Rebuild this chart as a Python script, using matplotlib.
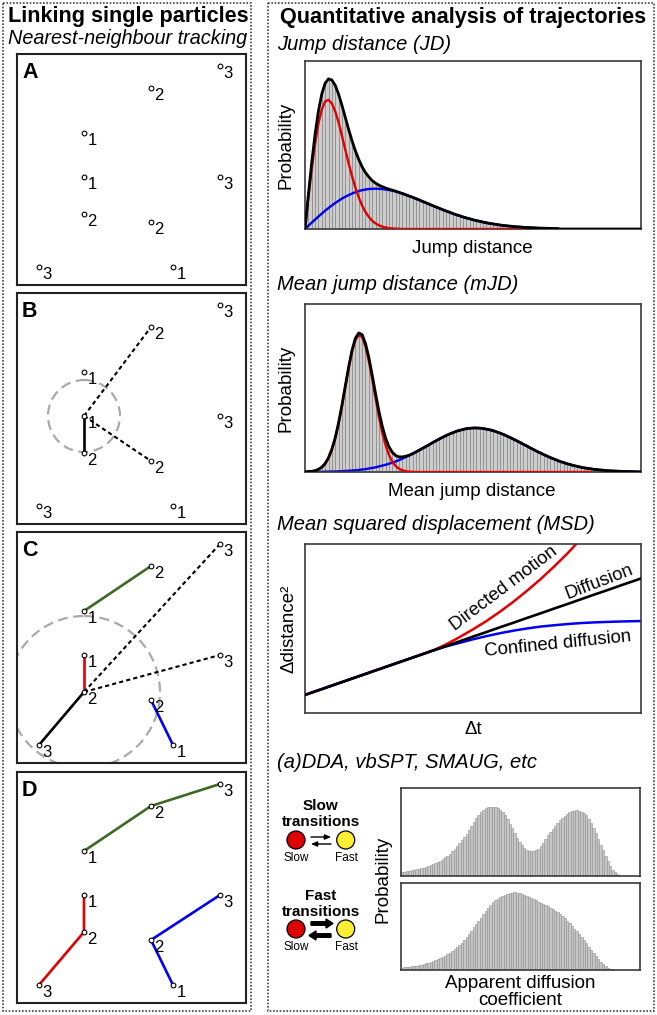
import numpy as np
import matplotlib
matplotlib.use('Agg')
import matplotlib.pyplot as plt
from matplotlib.patches import Rectangle, Circle, FancyArrow

plt.rcParams['font.family'] = ['Liberation Sans', 'DejaVu Sans']

# ---------------- data ----------------
# particle positions (px inside a 229x231 panel) for frames 1, 2, 3
frames = [1, 2, 3]
green_x = [67, 134, 203]
green_y = [79, 34, 12]
red_x = [67, 67, 22]
red_y = [123, 160, 213]
blue_x = [156, 134, 203]
blue_y = [213, 168, 123]
panel_letters = ['A', 'B', 'C', 'D']

# Jump distance histogram / fits (step 0.01 along x axis)
jd_black = [0, .204, .395, .564, .702, .804, .868, .894, .887, .855,
            .802, .736, .664, .592, .525, .465, .414, .370, .336, .310,
            .288, .273, .261, .252, .244, .237, .231, .225, .218, .211,
            .204, .196, .189, .181, .173, .164, .156, .148, .139, .131,
            .123, .115, .107, .100, .092, .085, .079, .072, .066, .061,
            .055, .050, .046, .041, .037, .033, .030, .027, .024, .021,
            .019, .017, .015, .013, .012, .010, .009, .008, .007, .006,
            .005, .005, .004, .004, .003, .003] + [0.0] * 25
jd_red = [0, .185, .357, .508, .628, .712, .759, .769, .747, .700,
          .634, .555, .472, .390, .314, .246, .188, .139, .101, .072,
          .049, .033, .022, .014, .009, .005, .003, .002, .001] + [0.0] * 45
jd_blue = [0, .019, .038, .056, .074, .092, .109, .125, .140, .155,
           .168, .181, .192, .202, .211, .219, .226, .231, .235, .238,
           .239, .240, .239, .238, .235, .232, .228, .223, .217, .211,
           .204, .196, .189, .181, .173, .164, .156, .148, .139, .131,
           .123, .115, .107, .100, .092, .085, .079, .072, .066, .061,
           .055, .050, .046, .041, .037, .033, .030, .027, .024, .021,
           .019, .017, .015, .013, .012, .010, .009, .008, .007, .006,
           .005, .005, .004, .004, .003, .003]

# Mean jump distance histogram / fits (step 0.01)
mjd_black = [.001, .002, .004, .008, .016, .029, .051, .085, .136, .204,
             .293, .398, .513, .626, .726, .796, .828, .818, .765, .682,
             .577, .466, .362, .272, .201, .150, .117, .098, .090, .090,
             .094, .100, .109, .119, .130, .141, .152, .163, .175, .186,
             .197, .207, .217, .226, .234, .242, .248, .253, .258, .260,
             .262, .262, .261, .259, .255, .251, .246, .239, .232, .224,
             .215, .206, .196, .186, .176, .165, .155, .144, .134, .123,
             .114, .104, .095, .086, .078, .070, .062, .056, .049, .044,
             .038, .034, .029, .025, .022, .019, .016, .014, .012, .010,
             .008, .007, .006, .005, .004, .003, .003, .002, .002, .001, .001]
mjd_red = [.001, .002, .004, .007, .015, .028, .049, .083, .133, .201,
           .289, .393, .507, .619, .717, .786, .816, .803, .748, .661,
           .553, .438, .329, .234, .158, .101, .061, .035, .019, .010,
           .005, .002, .001] + [0.0] * 53
mjd_blue = [.000, .001, .001, .001, .001, .001, .002, .002, .003, .003,
            .004, .005, .006, .007, .009, .010, .012, .015, .017, .021,
            .024, .028, .033, .038, .043, .049, .056, .063, .071, .080,
            .089, .098, .108, .119, .130, .141, .152, .163, .175, .186,
            .197, .207, .217, .226, .234, .242, .248, .253, .258, .260,
            .262, .262, .261, .259, .255, .251, .246, .239, .232, .224,
            .215, .206, .196, .186, .176, .165, .155, .144, .134, .123,
            .114, .104, .095, .086, .078, .070, .062, .056, .049, .044,
            .038, .034, .029, .025, .022, .019, .016, .014, .012, .010,
            .008, .007, .006, .005, .004, .003, .003, .002, .002, .001, .001]

# MSD curves
msd_t = [0.0, 0.2, 0.38, 0.42, 0.46, 0.50, 0.54, 0.58, 0.62, 0.66,
         0.70, 0.74, 0.78, 0.82, 0.86, 0.90, 0.95, 1.00]
msd_diffusion = [0.107, 0.245, 0.369, 0.396, 0.424, 0.452, 0.479, 0.507, 0.534, 0.562,
                 0.589, 0.617, 0.644, 0.672, 0.700, 0.727, 0.762, 0.796]
msd_directed = [0.107, 0.245, 0.369, 0.406, 0.449, 0.495, 0.544, 0.599, 0.658, 0.722,
                0.790, 0.864, 0.942, 1.027, 1.11, 1.20, 1.31, 1.42]
msd_confined = [0.107, 0.245, 0.369, 0.394, 0.415, 0.436, 0.455, 0.472, 0.487, 0.500,
                0.511, 0.519, 0.526, 0.532, 0.536, 0.539, 0.542, 0.544]

# apparent diffusion coefficient histograms (bin width 0.01)
dda_slow = [.045, .049, .053, .058, .063, .068, .074, .080, .087, .094,
            .102, .111, .121, .132, .145, .159, .175, .192, .211, .232,
            .255, .280, .308, .338, .370, .404, .440, .478, .520, .566,
            .612, .655, .694, .728, .754, .772, .783, .788, .788, .781,
            .768, .748, .722, .688, .646, .596, .540, .486, .436, .391,
            .353, .322, .300, .285, .279, .282, .293, .312, .340, .378,
            .420, .462, .502, .538, .568, .600, .632, .660, .686, .706,
            .725, .737, .743, .745, .742, .732, .714, .688, .650, .600,
            .545, .485, .420, .355, .290, .225, .165, .112, .070, .040,
            .018, .006]
dda_fast = [.027, .030, .034, .038, .042, .046, .051, .056, .062, .068,
            .075, .083, .092, .101, .110, .121, .134, .148, .163, .180,
            .196, .213, .236, .260, .287, .316, .346, .376, .410, .448,
            .490, .528, .566, .600, .640, .680, .716, .748, .776, .800,
            .820, .837, .852, .865, .876, .884, .889, .891, .890, .885,
            .877, .867, .855, .843, .830, .816, .801, .786, .772, .758,
            .744, .730, .715, .699, .682, .663, .642, .618, .593, .566,
            .537, .508, .477, .446, .413, .378, .342, .306, .270, .234,
            .197, .160, .125, .092, .065, .042, .025, .014, .007, .003]

# ---------------- figure ----------------
W, H = 657, 1015
fig = plt.figure(figsize=(W / 100, H / 100), dpi=100)


def rect(x, y, w, h):
    return [x / W, 1 - (y + h) / H, w / W, h / H]


canvas = fig.add_axes([0, 0, 1, 1])
canvas.set_xlim(0, W)
canvas.set_ylim(H, 0)
canvas.axis('off')

# dotted outer boxes
for (x0, y0, w, h) in [(3, 3, 248, 1008), (268, 3, 386, 1008)]:
    canvas.add_patch(Rectangle((x0, y0), w, h, fill=False, ec='#444444',
                               lw=1.2, ls=(0, (1, 1))))

# headings
canvas.text(8, 22, 'Linking single particles', fontsize=15.6, fontweight='bold',
            ha='left', va='baseline')
canvas.text(8, 44, 'Nearest-neighbour tracking', fontsize=14.3, fontstyle='italic',
            ha='left', va='baseline')
canvas.text(280, 23, 'Quantitative analysis of trajectories', fontsize=15.6,
            fontweight='bold', ha='left', va='baseline')
for txt, yb in [('Jump distance (JD)', 50), ('Mean jump distance (mJD)', 290),
                ('Mean squared displacement (MSD)', 530),
                ('(a)DDA, vbSPT, SMAUG, etc', 768)]:
    canvas.text(277, yb, txt, fontsize=14.5, fontstyle='italic', ha='left', va='baseline')

# ---------------- left panels ----------------
tracks = [(green_x, green_y), (red_x, red_y), (blue_x, blue_y)]
track_colors = ['#3b6b22', '#e00000', '#0000ee']
panel_tops = [54, 293, 532, 772]
dot_ls = (0, (2.0, 1.5))

for letter, top in zip(panel_letters, panel_tops):
    ax = fig.add_axes(rect(17, top, 229, 231))
    ax.set_xlim(0, 229)
    ax.set_ylim(231, 0)
    ax.set_xticks([])
    ax.set_yticks([])
    for s in ax.spines.values():
        s.set_linewidth(1.5)
        s.set_color('#222222')
    ax.text(5, 24, letter, fontsize=15.5, fontweight='bold', ha='left', va='baseline')

    if letter == 'B':
        ax.add_patch(Circle((red_x[0], red_y[0]), 36, fill=False, ec='#aaaaaa',
                            lw=1.6, ls=(0, (4.5, 2.5)), zorder=1))
        ax.plot(red_x[0:2], red_y[0:2], color='black', lw=1.9, zorder=2)
        ax.plot([red_x[0], green_x[1]], [red_y[0], green_y[1]], color='black',
                lw=1.5, ls=dot_ls, zorder=2)
        ax.plot([red_x[0], blue_x[1]], [red_y[0], blue_y[1]], color='black',
                lw=1.5, ls=dot_ls, zorder=2)
    elif letter == 'C':
        ax.add_patch(Circle((red_x[1], red_y[1]), 76, fill=False, ec='#aaaaaa',
                            lw=1.6, ls=(0, (4.5, 2.5)), zorder=1))
        for (tx, ty), c in zip(tracks, track_colors):
            ax.plot(tx[0:2], ty[0:2], color=c, lw=1.9, zorder=2)
        ax.plot(red_x[1:3], red_y[1:3], color='black', lw=1.9, zorder=2)
        ax.plot([red_x[1], green_x[2]], [red_y[1], green_y[2]], color='black',
                lw=1.5, ls=dot_ls, zorder=2)
        ax.plot([red_x[1], blue_x[2]], [red_y[1], blue_y[2]], color='black',
                lw=1.5, ls=dot_ls, zorder=2)
    elif letter == 'D':
        for (tx, ty), c in zip(tracks, track_colors):
            ax.plot(tx, ty, color=c, lw=1.9, zorder=2)

    for tx, ty in tracks:
        ax.plot(tx, ty, ls='none', marker='o', ms=3.4, mfc='white', mec='black',
                mew=0.8, zorder=3)
        for xx, yy, f in zip(tx, ty, frames):
            ax.text(xx + 3.5, yy + 12.3, str(f), fontsize=12, ha='left', va='baseline',
                    zorder=4)

# ---------------- right panels ----------------
def style_axes(ax):
    ax.set_xticks([])
    ax.set_yticks([])
    for s in ax.spines.values():
        s.set_linewidth(1.2)
        s.set_color('#3a3a3a')


fill_c = '#cdcdcd'
bar_line_c = '#8a8a8a'

# Jump distance
ax = fig.add_axes(rect(305, 61, 336, 168))
style_axes(ax)
x = np.arange(len(jd_black)) * 0.01
ax.fill_between(x, jd_black, color=fill_c, lw=0, zorder=1)
ax.vlines(x[1:], 0, jd_black[1:], color=bar_line_c, lw=0.6, zorder=1.5)
ax.plot(np.arange(len(jd_blue)) * 0.01, jd_blue, color='#0000ee', lw=1.7, zorder=2)
ax.plot(np.arange(len(jd_red)) * 0.01, jd_red, color='#e00000', lw=1.7, zorder=3)
ax.plot(x, jd_black, color='black', lw=2.0, zorder=4)
ax.set_xlim(0, 1)
ax.set_ylim(0, 1)
canvas.text(286, 145, 'Probability', fontsize=13.5, rotation=90, ha='center', va='center')
canvas.text(472, 253, 'Jump distance', fontsize=13.5, ha='center', va='baseline')

# Mean jump distance
ax = fig.add_axes(rect(305, 304, 336, 168))
style_axes(ax)
x = np.arange(len(mjd_black)) * 0.01
ax.fill_between(x, mjd_black, color=fill_c, lw=0, zorder=1)
ax.vlines(x, 0, mjd_black, color=bar_line_c, lw=0.6, zorder=1.5)
ax.plot(np.arange(len(mjd_blue)) * 0.01, mjd_blue, color='#0000ee', lw=1.7, zorder=2)
ax.plot(np.arange(len(mjd_red)) * 0.01, mjd_red, color='#e00000', lw=1.7, zorder=3)
ax.plot(x, mjd_black, color='black', lw=2.0, zorder=4)
ax.set_xlim(0, 1)
ax.set_ylim(0, 1)
canvas.text(286, 388, 'Probability', fontsize=13.5, rotation=90, ha='center', va='center')
canvas.text(472, 496, 'Mean jump distance', fontsize=13.5, ha='center', va='baseline')

# MSD
ax = fig.add_axes(rect(305, 544, 336, 169))
style_axes(ax)
ax.plot(msd_t, msd_directed, color='#e00000', lw=1.8, zorder=2)
ax.plot(msd_t, msd_confined, color='#0000ee', lw=1.8, zorder=2)
ax.plot(msd_t, msd_diffusion, color='black', lw=1.9, zorder=3)
ax.set_xlim(0, 1)
ax.set_ylim(0, 1)
ax.text(0.593, 0.737, 'Directed motion', fontsize=13.3, rotation=37,
        rotation_mode='anchor', ha='center', va='center')
ax.text(0.877, 0.776, 'Diffusion', fontsize=13.3, rotation=21,
        rotation_mode='anchor', ha='center', va='center')
ax.text(0.752, 0.405, 'Confined diffusion', fontsize=13.3, rotation=5.8,
        rotation_mode='anchor', ha='center', va='center')
canvas.text(289, 629, 'Δdistance²', fontsize=13.5, rotation=90, ha='center', va='center')
canvas.text(473, 734, 'Δt', fontsize=13.5, ha='center', va='baseline')

# apparent diffusion histograms
for vals, top, hh in [(dda_slow, 788, 88), (dda_fast, 883, 87)]:
    ax = fig.add_axes(rect(401, top, 239, hh))
    style_axes(ax)
    xb = np.arange(len(vals)) * 0.01
    ax.bar(xb, vals, width=0.01, align='edge', color='#c6c6c6', edgecolor='#909090',
           lw=0.4)
    ax.set_xlim(0, 1)
    ax.set_ylim(0, 1)
canvas.text(383, 879, 'Probability', fontsize=13.5, rotation=90, ha='center', va='center')
canvas.text(520, 988, 'Apparent diffusion', fontsize=13.5, ha='center', va='baseline')
canvas.text(520, 1005, 'coefficient', fontsize=13.5, ha='center', va='baseline')

# state icons
for head_y, circ_y, lab_y, title in [(810, 840, 861, 'Slow'), (900, 929, 950, 'Fast')]:
    canvas.text(320.5, head_y, title, fontsize=11, fontweight='bold', ha='center',
                va='baseline')
    canvas.text(320.5, head_y + 16, 'transitions', fontsize=11, fontweight='bold',
                ha='center', va='baseline')
    canvas.add_patch(Circle((296, circ_y), 9, fc='#dd0000', ec='black', lw=0.9))
    canvas.add_patch(Circle((345.7, circ_y), 9, fc='#ffee33', ec='black', lw=0.9))
    canvas.text(296, lab_y, 'Slow', fontsize=8.5, ha='center', va='baseline')
    canvas.text(346, lab_y, 'Fast', fontsize=8.5, ha='center', va='baseline')

# slow transitions: thin arrows
canvas.annotate('', xy=(331, 837), xytext=(311, 837),
                arrowprops=dict(arrowstyle='-|>,head_length=0.35,head_width=0.15',
                                lw=1.0, color='black', shrinkA=0, shrinkB=0))
canvas.annotate('', xy=(311, 844), xytext=(331, 844),
                arrowprops=dict(arrowstyle='-|>,head_length=0.35,head_width=0.15',
                                lw=1.0, color='black', shrinkA=0, shrinkB=0))
# fast transitions: thick arrows
canvas.add_patch(FancyArrow(311, 923.5, 15, 0, width=3.5, head_width=9, head_length=7,
                            length_includes_head=False, color='black'))
canvas.add_patch(FancyArrow(331, 935.5, -15, 0, width=3.5, head_width=9, head_length=7,
                            length_includes_head=False, color='black'))

fig.savefig('out.png', dpi=100)
